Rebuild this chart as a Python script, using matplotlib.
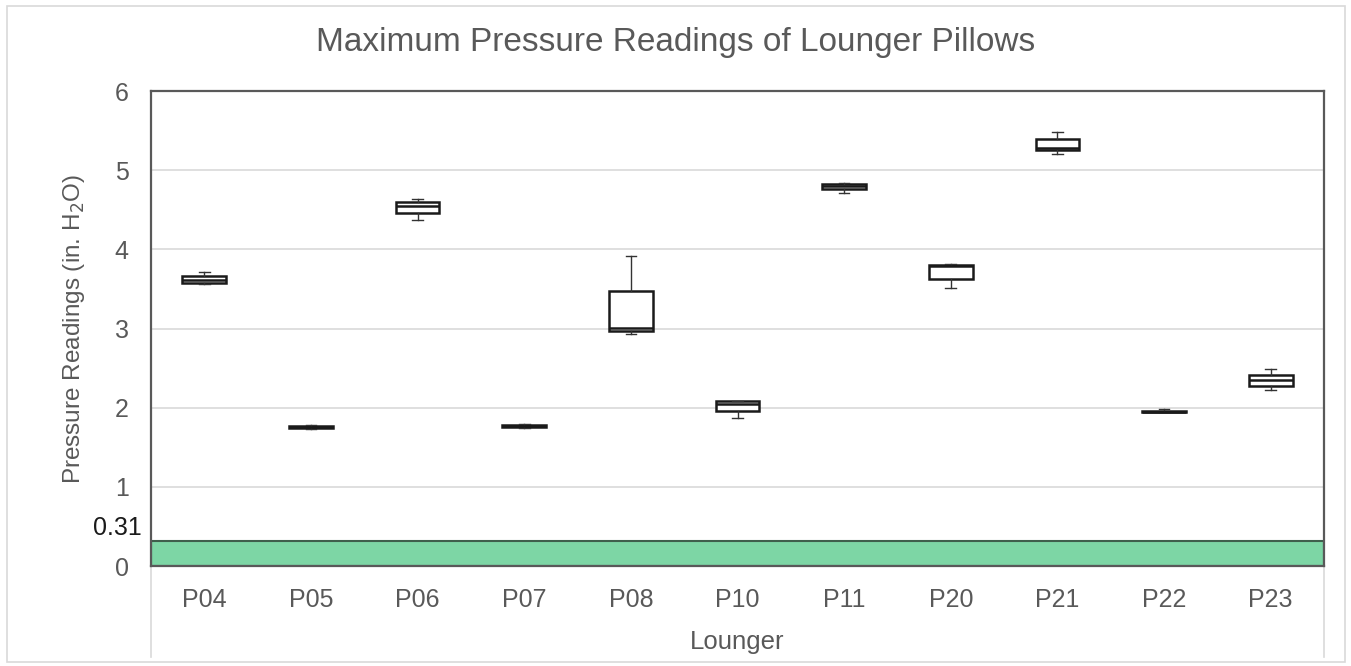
import matplotlib
matplotlib.use("Agg")
import matplotlib.pyplot as plt
from matplotlib.lines import Line2D
from matplotlib.patches import Rectangle

plt.rcParams["font.family"] = ["Liberation Sans", "DejaVu Sans"]

# data (in. H2O)
loungers = ["P04", "P05", "P06", "P07", "P08", "P10", "P11", "P20", "P21", "P22", "P23"]
whisker_low = [3.56, 1.73, 4.37, 1.74, 2.93, 1.87, 4.71, 3.51, 5.21, 1.94, 2.22]
quart1 = [3.57, 1.74, 4.46, 1.76, 2.97, 1.96, 4.76, 3.63, 5.25, 1.94, 2.28]
medians = [3.61, 1.75, 4.55, 1.77, 3.01, 2.05, 4.80, 3.79, 5.28, 1.95, 2.35]
quart3 = [3.66, 1.77, 4.60, 1.78, 3.47, 2.08, 4.82, 3.80, 5.39, 1.96, 2.41]
whisker_high = [3.72, 1.78, 4.63, 1.79, 3.91, 2.08, 4.84, 3.81, 5.48, 1.98, 2.49]
THRESHOLD = 0.31
y_ticks = [0, 1, 2, 3, 4, 5, 6]

GREY = "#595959"
LIGHT = "#d9d9d9"

fig = plt.figure(figsize=(13.51, 6.66), dpi=100, facecolor="white")
ax = fig.add_axes([151 / 1351, 1 - 566 / 666, (1324 - 151) / 1351, (566 - 91) / 666])

# outer chart border (Excel style)
fig.add_artist(Rectangle((7 / 1351, 4 / 666), 1338 / 1351, 656 / 666,
                         transform=fig.transFigure, fill=False, edgecolor=LIGHT, lw=1.2))

ax.axhspan(0, THRESHOLD, facecolor="#7dd6a5", edgecolor="#3f5f4c", lw=1.5, zorder=1)

stats = []
for i, name in enumerate(loungers):
    stats.append({"label": name, "whislo": whisker_low[i], "q1": quart1[i], "med": medians[i],
                  "q3": quart3[i], "whishi": whisker_high[i], "fliers": []})
pos = list(range(len(loungers)))
ax.bxp(stats, positions=pos, widths=0.41, patch_artist=True, showfliers=False,
       boxprops=dict(facecolor="white", edgecolor="#1a1a1a", lw=1.8),
       medianprops=dict(color="#1a1a1a", lw=1.8),
       whiskerprops=dict(color="#333333", lw=1.0),
       capprops=dict(color="#333333", lw=1.0), capwidths=0.1, zorder=3)

ax.set_xlim(-0.5, len(loungers) - 0.5)
ax.set_ylim(0, 6)
ax.set_yticks(y_ticks)
ax.set_yticklabels([str(t) for t in y_ticks])
ax.grid(axis="y", color=LIGHT, lw=1.2, zorder=0)
ax.set_axisbelow(True)
ax.tick_params(axis="y", length=0, pad=16, labelsize=18, labelcolor=GREY)
ax.tick_params(axis="x", length=0, pad=16, labelsize=18, labelcolor=GREY)
for s in ax.spines.values():
    s.set_color(GREY)
    s.set_linewidth(1.6)

ax.annotate(f"{THRESHOLD}", xy=(0, THRESHOLD), xycoords=("axes fraction", "data"),
            xytext=(-7, 10), textcoords="offset points", ha="right", va="center",
            fontsize=18, color="#1a1a1a")

# category axis box lines below the plot
for xf in (0, 1):
    ax.add_line(Line2D([xf, xf], [0, -91 / 475], transform=ax.transAxes,
                       color=LIGHT, lw=1.2, clip_on=False))

fig.text(0.5, 1 - 43 / 666, "Maximum Pressure Readings of Lounger Pillows",
         ha="center", va="center", fontsize=24, color=GREY)
ax.set_ylabel("Pressure Readings (in. H$_2$O)", fontsize=17.5, color=GREY, labelpad=20)
ax.set_xlabel("Lounger", fontsize=18.5, color=GREY, labelpad=13)

fig.savefig("out.png", dpi=100, facecolor="white")
